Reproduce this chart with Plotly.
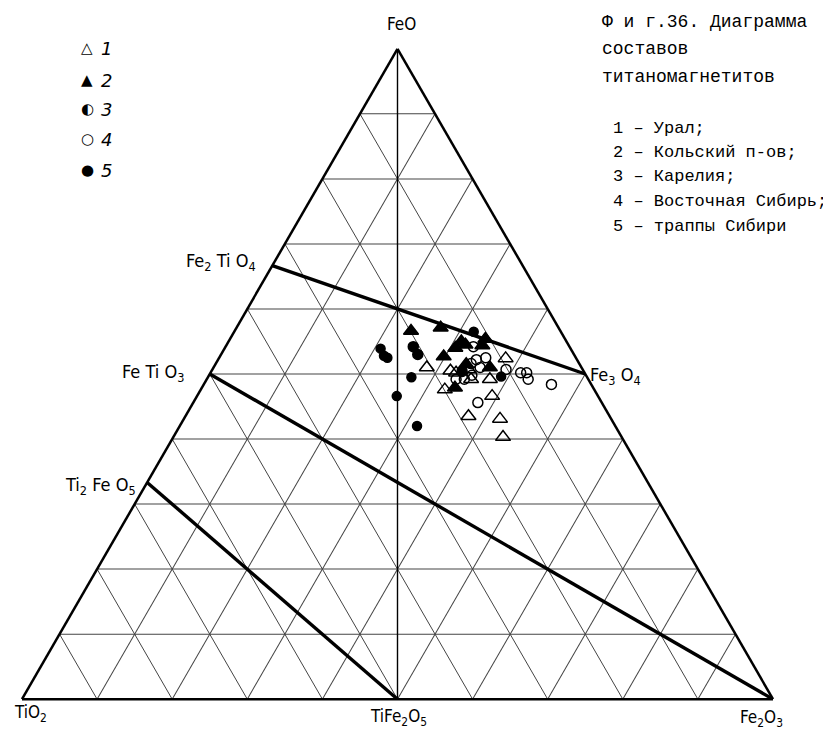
import plotly.graph_objects as go

# the page body keeps its default 8px margin, so the figure is drawn 8px smaller
PAD = 8
W, H = 831 - PAD, 734 - PAD

# compositions in mol % : FeO (top), TiO2 (left), Fe2O3 (right)
ural_feo = [51.0, 50.5, 47.6, 49.2, 46.6, 43.5, 43.1, 40.3, 52.4, 50.2, 50.7, 49.2]
ural_tio2 = [20.6, 17.7, 19.9, 13.1, 14.1, 18.8, 14.8, 15.8, 9.4, 17.1, 15.2, 15.6]
ural_fe2o3 = [28.4, 31.8, 32.5, 37.7, 39.3, 37.7, 42.1, 43.9, 38.2, 32.7, 34.1, 35.2]

kola_feo = [56.6, 57.1, 52.7, 54.0, 55.0, 54.5, 55.4, 54.4, 47.9, 51.5, 51.0]
kola_tio2 = [19.9, 15.7, 17.5, 15.3, 14.0, 13.7, 10.6, 11.5, 18.4, 15.1, 12.2]
kola_fe2o3 = [23.5, 27.2, 29.8, 30.7, 31.0, 31.8, 34.0, 34.1, 33.7, 33.4, 36.8]

karel_feo = [54.2, 53.0, 50.4]
karel_tio2 = [20.8, 20.8, 16.2]
karel_fe2o3 = [25.0, 26.2, 33.4]

vsib_feo = [54.2, 52.2, 52.5, 50.7, 50.2, 50.2, 49.2, 48.4, 45.6, 51.0, 51.6, 49.2, 49.2, 49.8]
vsib_tio2 = [12.8, 13.4, 12.0, 10.2, 8.5, 7.7, 8.0, 5.3, 16.5, 13.5, 14.4, 17.6, 16.5, 15.2]
vsib_fe2o3 = [33.0, 34.4, 35.5, 39.1, 41.3, 42.1, 42.8, 46.3, 37.9, 35.5, 34.0, 33.2, 34.3, 35.0]

trap_feo = [53.9, 52.8, 52.5, 49.5, 46.6, 42.0, 56.5, 49.6]
trap_tio2 = [25.3, 25.4, 25.1, 23.4, 26.8, 26.4, 11.6, 11.4]
trap_fe2o3 = [20.8, 21.8, 22.4, 27.1, 26.6, 31.6, 31.9, 39.0]

# end members (FeO, TiO2, Fe2O3)
phases = {
    'FeO': (100, 0, 0),
    'Fe2TiO4': (66.67, 33.33, 0),
    'FeTiO3': (50, 50, 0),
    'Ti2FeO5': (33.33, 66.67, 0),
    'Fe3O4': (50, 0, 50),
    'TiFe2O5': (0, 50, 50),
    'Fe2O3': (0, 0, 100),
}
thick_lines = [('Fe2TiO4', 'Fe3O4'), ('FeTiO3', 'Fe2O3'), ('Ti2FeO5', 'TiFe2O5')]
thin_lines = [('FeO', 'TiFe2O5')]

legend_nums = ['1', '2', '3', '4', '5']
legend_glyphs = ['△', '▲', '◐', '○', '●']

title_lines = ['Ф и г.36. Диаграмма', 'составов', 'титаномагнетитов']
region_lines = ['1 – Урал;', '2 – Кольский п-ов;', '3 – Карелия;',
                '4 – Восточная Сибирь;', '5 – траппы Сибири']


def px(x, y):
    # page pixel -> paper coords
    return (x - PAD) / W, 1 - (y - PAD) / H


fig = go.Figure()

for pair, width in [(p, 3.4) for p in thick_lines] + [(p, 1.4) for p in thin_lines]:
    p0, p1 = phases[pair[0]], phases[pair[1]]
    fig.add_trace(go.Scatterternary(
        a=[p0[0], p1[0]], b=[p0[1], p1[1]], c=[p0[2], p1[2]],
        mode='lines', line=dict(color='black', width=width),
        hoverinfo='skip', showlegend=False))

series = [
    (ural_feo, ural_tio2, ural_fe2o3, 'triangle-up-open', 13),
    (vsib_feo, vsib_tio2, vsib_fe2o3, 'circle-open', 10),
    (kola_feo, kola_tio2, kola_fe2o3, 'triangle-up', 13),
    (karel_feo, karel_tio2, karel_fe2o3, 'circle', 10),
    (trap_feo, trap_tio2, trap_fe2o3, 'circle', 9),
]
for a, b, c, sym, size in series:
    fig.add_trace(go.Scatterternary(
        a=a, b=b, c=c, mode='markers',
        marker=dict(symbol=sym, size=size, color='black',
                    line=dict(color='black', width=1.5)),
        showlegend=False))

axis_style = dict(showgrid=True, dtick=10, gridcolor='#444', gridwidth=0.8,
                  linecolor='black', linewidth=2.5, showticklabels=False,
                  ticks='', title=dict(text=''))

x0, y0 = px(22, 702)
x1, y1 = px(773, 46)
fig.update_layout(
    width=W, height=H,
    margin=dict(l=0, r=0, t=0, b=0),
    paper_bgcolor='white',
    showlegend=False,
    ternary=dict(sum=100, bgcolor='white',
                 domain=dict(x=[x0, x1], y=[y0, y1]),
                 aaxis=axis_style, baxis=axis_style, caxis=axis_style),
)

narrow = 'Liberation Sans Narrow, DejaVu Sans Condensed, Arial Narrow, sans-serif'
labels = [
    ('FeO', 401, 24, 'center', 17),
    ('TiO<sub>2</sub>', 12, 713, 'left', 17),
    ('TiFe<sub>2</sub>O<sub>5</sub>', 398, 717, 'center', 17),
    ('Fe<sub>2</sub>O<sub>3</sub>', 761, 718, 'center', 17),
    ('Fe<sub>2</sub> Ti O<sub>4</sub>', 258, 262, 'right', 18),
    ('Fe Ti O<sub>3</sub>', 186, 373, 'right', 18),
    ('Ti<sub>2</sub> Fe O<sub>5</sub>', 138, 486, 'right', 18),
    ('Fe<sub>3</sub> O<sub>4</sub>', 588, 376, 'left', 18),
]
for text, x, y, anchor, size in labels:
    ax, ay = px(x, y)
    fig.add_annotation(x=ax, y=ay, xref='paper', yref='paper', text=text,
                       showarrow=False, xanchor=anchor, yanchor='middle',
                       font=dict(family=narrow, size=size, color='black'))

leg_y = [48, 80, 109, 139, 170]
for glyph, num, y in zip(legend_glyphs, legend_nums, leg_y):
    gx, gy = px(87, y)
    fig.add_annotation(x=gx, y=gy, xref='paper', yref='paper', text=glyph,
                       showarrow=False, xanchor='center', yanchor='middle',
                       font=dict(family='DejaVu Sans', size=15, color='black'))
    nx, ny = px(99, y)
    fig.add_annotation(x=nx, y=ny, xref='paper', yref='paper', text='<i>' + num + '</i>',
                       showarrow=False, xanchor='left', yanchor='middle',
                       font=dict(family='DejaVu Sans', size=18, color='black'))

mono = 'Liberation Mono, DejaVu Sans Mono, monospace'
for text, y in zip(title_lines, [22, 49, 77]):
    tx, ty = px(600, y)
    fig.add_annotation(x=tx, y=ty, xref='paper', yref='paper', text=text,
                       showarrow=False, xanchor='left', yanchor='middle',
                       font=dict(family=mono, size=18, color='black'))
for i, text in enumerate(region_lines):
    tx, ty = px(611, 128 + 24.5 * i)
    fig.add_annotation(x=tx, y=ty, xref='paper', yref='paper', text=text,
                       showarrow=False, xanchor='left', yanchor='middle',
                       font=dict(family=mono, size=17, color='black'))

fig.write_html('out.html')
